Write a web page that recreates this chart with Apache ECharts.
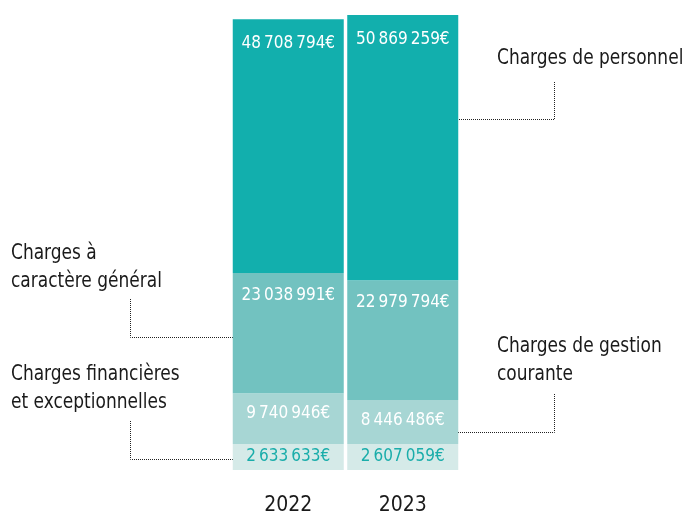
<!DOCTYPE html>
<html>
<head>
<meta charset="utf-8">
<script src="https://cdn.jsdelivr.net/npm/echarts@6/dist/echarts.min.js"></script>
<style>
  html, body { margin: 0; padding: 0; background: #fff; }
  #chart { width: 686px; height: 518px; }
</style>
</head>
<body>
<div id="chart"></div>
<script>
const years = ["2022", "2023"];
const financieres = [2633633, 2607059];
const gestion = [9740946, 8446486];
const general = [23038991, 22979794];
const personnel = [48708794, 50869259];

// the designer gave the smallest segment a minimum height
const MIN_SHOWN = 5000000;
const FONT = '"DejaVu Sans Condensed", sans-serif';

function fmt(v) {
    return String(v).replace(/\B(?=(\d{3})+(?!\d))/g, "\u2009") + "€";
}

function barSeries(name, values, color, labelColor, pos, dist) {
    return {
        name: name,
        type: "bar",
        stack: "total",
        barWidth: 111,
        data: values.map(v => ({ value: Math.max(v, MIN_SHOWN), real: v })),
        itemStyle: { color: color },
        label: {
            show: true,
            position: pos,
            distance: dist,
            color: labelColor,
            fontFamily: FONT,
            fontSize: 17,
            formatter: p => fmt(values[p.dataIndex])
        },
        emphasis: { disabled: true }
    };
}

const chart = echarts.init(document.getElementById("chart"));

const dotted = { stroke: "#222", lineWidth: 1, lineDash: [1, 1], fill: null };
// narrow the callout text a bit, the original uses a condensed face
const txt = (x, y, text) => ({
    type: "text",
    x: x, y: y,
    scaleX: 0.86,
    style: { text: text, font: "22px " + FONT, fill: "#1a1a1a", lineHeight: 28 }
});

chart.setOption({
    animation: false,
    grid: { left: 231, width: 229, top: 1, bottom: 48 },
    xAxis: {
        type: "category",
        data: years,
        axisLine: { show: false },
        axisTick: { show: false },
        axisLabel: { color: "#1a1a1a", fontFamily: FONT, fontSize: 21, margin: 25 }
    },
    yAxis: { type: "value", min: 0, max: 90000000, show: false },
    series: [
        barSeries("Charges financières et exceptionnelles", financieres, "#d5eae8", "#1aadaa", "inside", 0),
        barSeries("Charges de gestion courante", gestion, "#a7d6d4", "#fff", "insideTop", 12),
        barSeries("Charges à caractère général", general, "#72c2c0", "#fff", "insideTop", 14),
        barSeries("Charges de personnel", personnel, "#12afad", "#fff", "insideTop", 16)
    ],
    graphic: [
        txt(497, 44, "Charges de personnel"),
        txt(497, 332, "Charges de gestion\ncourante"),
        txt(11, 239, "Charges à\ncaractère général"),
        txt(11, 360, "Charges financières\net exceptionnelles"),
        { type: "polyline", shape: { points: [[554.5, 82], [554.5, 119.5], [444, 119.5]] }, style: dotted },
        { type: "polyline", shape: { points: [[554.5, 394], [554.5, 432.5], [444, 432.5]] }, style: dotted },
        { type: "polyline", shape: { points: [[130.5, 299], [130.5, 337.5], [241, 337.5]] }, style: dotted },
        { type: "polyline", shape: { points: [[130.5, 421], [130.5, 459.5], [241, 459.5]] }, style: dotted }
    ]
});
</script>
</body>
</html>
